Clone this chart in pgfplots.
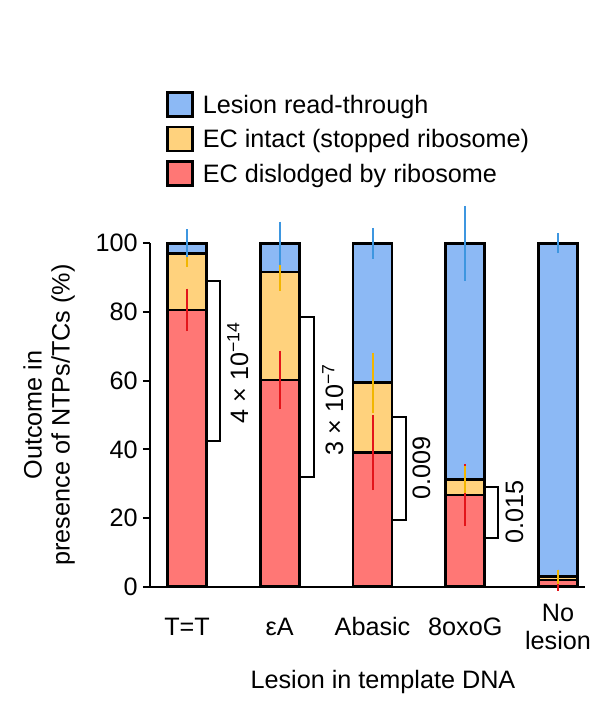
\documentclass[border=0pt]{standalone}
\usepackage{pgfplots}
\usepackage{pgfplotstable}
\pgfplotsset{compat=1.18}
\usepackage{fontspec}
\setmainfont{Liberation Sans}

\definecolor{readthru}{HTML}{8CB9F5}
\definecolor{intact}{HTML}{FFD27D}
\definecolor{dislodged}{HTML}{FF7775}
\definecolor{errblue}{HTML}{3D96E0}
\definecolor{erryellow}{HTML}{F2B600}
\definecolor{errred}{HTML}{E3141A}

% stacked outcomes (%) and SD of each segment
\pgfplotstableread{
x red  orange blue redtop orangetop bluetop rederr orangeerr blueerr
0 80.6 16.5   2.9  80.6   97.1      100     5.3    3.0       3.2
1 60.2 31.4   8.4  60.2   91.6      100     7.7    4.6       5.4
2 39.0 20.4   40.6 39.0   59.4      100     10.0   7.8       3.6
3 26.7 4.6    68.7 26.7   31.3      100     8.2    3.0       10.0
4 1.9  1.0    97.1 1.9    2.9       100     2.2    1.2       2.0
}\outcome

\pgfplotsset{
  common/.style={
    width=217.5pt, height=171.7pt, scale only axis,
    xmin=-0.399, xmax=4.291, ymin=0, ymax=100,
    clip=false, at={(0,0)}, anchor=south west,
  },
  errbar/.style={
    draw=none, mark=none,
    error bars/.cd, y dir=both, y explicit,
    error bar style={draw=#1, line width=1pt},
    error mark options={draw=#1, line width=1pt, mark size=1.5pt},
  },
}

\begin{document}
\begin{tikzpicture}[font=\fontsize{12.6}{14}\selectfont]
\useasboundingbox (-75pt,-62.15pt) rectangle (230.5pt,293.35pt);

\begin{axis}[common,
  ybar stacked, bar width=19.5pt,
  every axis plot post/.append style={
    legend image code/.code={\draw[##1, draw=black, line width=1.2pt] (0pt,-1.6pt) rectangle (12.5pt,10.4pt);}},
  axis lines=left, axis line style={line width=1.1pt, -},
  tick align=outside, major tick length=3.5pt,
  x tick style={draw=none}, y tick style={line width=1.1pt, black},
  ytick={0,20,...,100},
  xtick={0,1,2,3,4},
  xticklabels={T=T, εA, Abasic, 8oxoG, {No\\lesion}},
  xticklabel style={align=center, anchor=center, inner sep=0pt, yshift=-16.5pt},
  yticklabel style={anchor=east, inner sep=0pt, xshift=-2.5pt},
  /pgf/number format/assume math mode=true,
  xlabel={Lesion in template DNA},
  xlabel style={at={(rel axis cs:0.5356,-0.295)}, anchor=base, inner sep=0pt},
  ylabel={Outcome in\\presence of NTPs/TCs (\%)},
  ylabel style={align=center, at={(rel axis cs:-0.232,0.5)}, anchor=center},
  reverse legend,
  legend style={at={(rel axis cs:0.0377,1.4424)}, anchor=north west,
    draw=none, fill=none, inner sep=0pt, outer sep=0pt,
    row sep=3.25pt, column sep=4.5pt,
    nodes={inner sep=0pt, text height=9pt, text depth=3pt, anchor=base west}},
  legend cell align=left,
]
\addplot[fill=dislodged, draw=black, line width=1.3pt] table[x=x, y=red]{\outcome};
\addlegendentry{EC dislodged by ribosome}
\addplot[fill=intact, draw=black, line width=1.3pt] table[x=x, y=orange]{\outcome};
\addlegendentry{EC intact (stopped ribosome)}
\addplot[fill=readthru, draw=black, line width=1.3pt] table[x=x, y=blue]{\outcome};
\addlegendentry{Lesion read-through}

% significance brackets
\draw[line width=1pt] (axis cs:0.21,89.0) -- (axis cs:0.356,89.0) -- (axis cs:0.356,42.5) -- (axis cs:0.21,42.5);
\draw[line width=1pt] (axis cs:1.21,78.6) -- (axis cs:1.372,78.6) -- (axis cs:1.372,32.0) -- (axis cs:1.21,32.0);
\draw[line width=1pt] (axis cs:2.21,49.5) -- (axis cs:2.356,49.5) -- (axis cs:2.356,19.4) -- (axis cs:2.21,19.4);
\draw[line width=1pt] (axis cs:3.21,28.9) -- (axis cs:3.35,28.9) -- (axis cs:3.35,14.1) -- (axis cs:3.21,14.1);
\node[rotate=90, anchor=base, inner sep=0pt] at (axis cs:0.658,62.4) {4 × 10\textsuperscript{−14}};
\node[rotate=90, anchor=base, inner sep=0pt] at (axis cs:1.682,51.7) {3 × 10\textsuperscript{−7}};
\node[rotate=90, anchor=base, inner sep=0pt] at (axis cs:2.620,34.5) {0.009};
\node[rotate=90, anchor=base, inner sep=0pt] at (axis cs:3.623,21.8) {0.015};
\end{axis}

\begin{axis}[common, hide axis]
\addplot[errbar=errred] table[x=x, y=redtop, y error=rederr]{\outcome};
\addplot[errbar=erryellow] table[x=x, y=orangetop, y error=orangeerr]{\outcome};
\addplot[errbar=errblue] table[x=x, y=bluetop, y error=blueerr]{\outcome};
\end{axis}
\end{tikzpicture}
\end{document}
